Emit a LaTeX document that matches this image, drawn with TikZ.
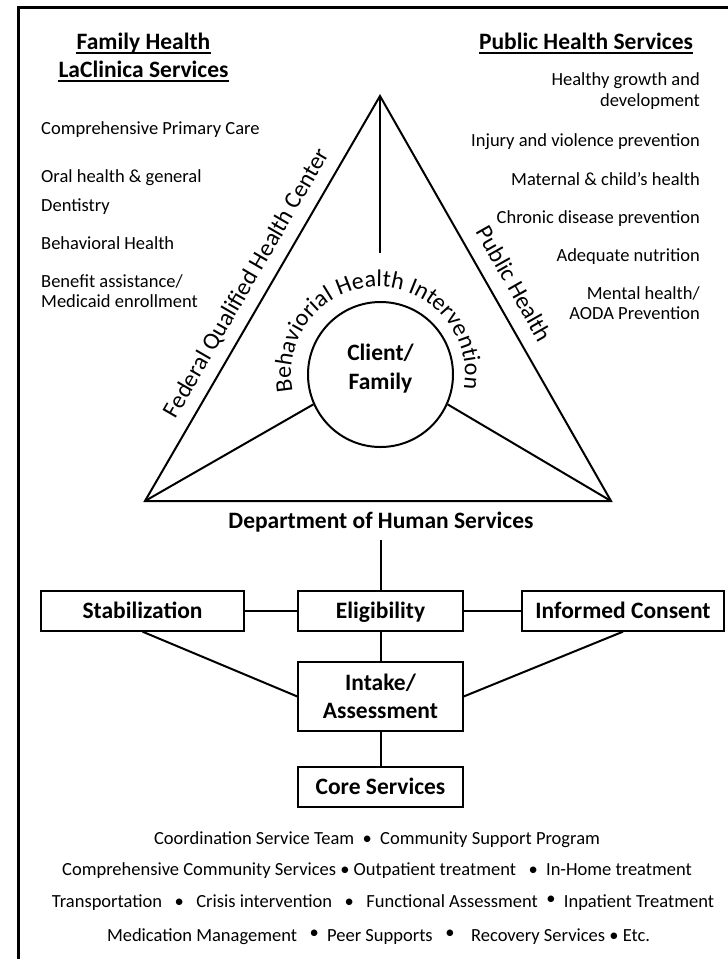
\documentclass[tikz,border=0pt]{standalone}
\usepackage{fontspec}
\setmainfont{Carlito}
\usetikzlibrary{decorations.text}
\newcommand\bodyf{\fontsize{18.5}{21}\selectfont}
\newcommand\boldf{\fontsize{23.5}{28.5}\selectfont\bfseries}
\newcommand\slantf{\fontsize{24}{28}\selectfont}
\newcommand\bul{\textbullet}
\newcommand\ubul{\raisebox{3pt}{\textbullet}}
\begin{document}
\begin{tikzpicture}[x=1pt,y=1pt,
  body/.style={font=\bodyf, inner sep=0},
  ttl/.style={font=\boldf, inner sep=0},
  ulin/.style={line width=1.6pt},
  box/.style={draw, line width=1.3pt, font=\boldf, inner sep=0, minimum height=40pt, align=center},
  oneline/.style={text height=20pt, text depth=4.8pt},
  conn/.style={line width=2pt},
  tri/.style={line width=2pt, line join=miter}]
\useasboundingbox (0,0) rectangle (728,-959);
\draw[line width=2.6pt] (18.3,-959) -- (18.3,-7.3) -- (728,-7.3);

% titles
\node[ttl, anchor=base] (fh) at (143.5,-49.3) {Family Health};
\node[ttl, anchor=base] (lc) at (143.5,-77.7) {LaClinica Services};
\node[ttl, anchor=base] (phs) at (586,-49.3) {Public Health Services};
\draw[ulin] ([yshift=-3.4pt]fh.base west) -- ([yshift=-3.4pt]fh.base east);
\draw[ulin] ([yshift=-3.4pt]lc.base west) -- ([yshift=-3.4pt]lc.base east);
\draw[ulin] ([yshift=-3.4pt]phs.base west) -- ([yshift=-3.4pt]phs.base east);

% left list
\node[body, anchor=base west] (l1) at (41,-134.3) {Comprehensive Primary Care};
\node[body, anchor=base west] (l2) at (41,-182.7) {Oral health \& general};
\node[body, anchor=base west] (l3) at (41,-211) {Dentistry};
\node[body, anchor=base west] (l4) at (41,-249.3) {Behavioral Health};
\node[body, anchor=base west] (l5) at (41,-287) {Benefit assistance/};
\node[body, anchor=base west] (l6) at (41,-307.7) {Medicaid enrollment};

% right list
\node[body, anchor=base east] (r1) at (700,-85) {Healthy growth and};
\node[body, anchor=base east] (r2) at (700,-106) {development};
\node[body, anchor=base east] (r3) at (700,-146) {Injury and violence prevention};
\node[body, anchor=base east] (r4) at (700,-185) {Maternal \& child’s health};
\node[body, anchor=base east] (r5) at (700,-223) {Chronic disease prevention};
\node[body, anchor=base east] (r6) at (700,-261) {Adequate nutrition};
\node[body, anchor=base east] (r7) at (700,-299) {Mental health/};
\node[body, anchor=base east] (r8) at (700,-319) {AODA Prevention};

% triangle
\coordinate (apex) at (380,-96);
\coordinate (bl) at (145,-501);
\coordinate (br) at (611,-501);
\coordinate (vfoot) at (380,-253);
\draw[tri] (apex) -- (bl) -- (br) -- cycle;
\draw[tri] (apex) -- (vfoot);
\node[circle, draw, line width=2pt, minimum size=145pt, inner sep=0] (client) at (380.5,-374.5) {};
\draw[tri] (bl) -- (client.204);
\draw[tri] (br) -- (client.-24);
\node[font=\boldf, align=center, inner sep=0] (clienttxt) at (380.5,-368.5) {Client/\\Family};

\path[decorate, decoration={text along path, text align=center,
  text={|\slantf|Behaviorial Health Intervention}}]
  (378,-374) ++(200:87) arc (200:-18:87);

\node[font=\slantf, rotate=59.9, inner sep=0] (fqhc) at (247,-283.5) {Federal Qualified Health Center};
\node[font=\slantf, rotate=-60.4, inner sep=0] (ph) at (514.5,-283.5) {Public Health};

\node[ttl, anchor=base] (dhs) at (381,-528.5) {Department of Human Services};
\coordinate (dhsfoot) at (380.5,-540);

% boxes
\node[box, oneline, minimum width=203pt] (stab) at (142.5,-611) {Stabilization};
\node[box, oneline, minimum width=165pt] (elig) at (380.5,-611) {Eligibility};
\node[box, oneline, minimum width=202pt] (ic) at (623,-611) {Informed Consent};
\node[box, minimum width=165pt, minimum height=69pt] (intake) at (380.5,-696.5) {Intake/\\Assessment};
\node[box, oneline, minimum width=165pt] (core) at (380.5,-787) {Core Services};

\draw[conn] (dhsfoot) -- (elig.north);
\draw[conn] (stab) -- (elig);
\draw[conn] (elig) -- (ic);
\draw[conn] (elig) -- (intake);
\draw[conn] (stab.south) -- (intake.west);
\draw[conn] (ic.south) -- (intake.east);
\draw[conn] (intake) -- (core);

% bottom list
\node[body, anchor=base] (b1) at (377,-844.3) {Coordination Service Team \ \bul\ \ Community Support Program};
\node[body, anchor=base] (b2) at (377,-875) {Comprehensive Community Services \bul\ Outpatient treatment \ \ \bul\ \ In-Home treatment};
\node[body, anchor=base] (b3) at (383,-907.3) {Transportation \ \ \bul\ \ \ Crisis intervention \ \ \bul\ \ \ Functional Assessment \ \ubul\ \ Inpatient Treatment};
\node[body, anchor=base] (b4) at (378.5,-941.7) {Medication Management \ \ \ubul\ \ Peer Supports \ \ \ubul\ \ \ \ Recovery Services \bul\ Etc.};
\end{tikzpicture}
\end{document}
